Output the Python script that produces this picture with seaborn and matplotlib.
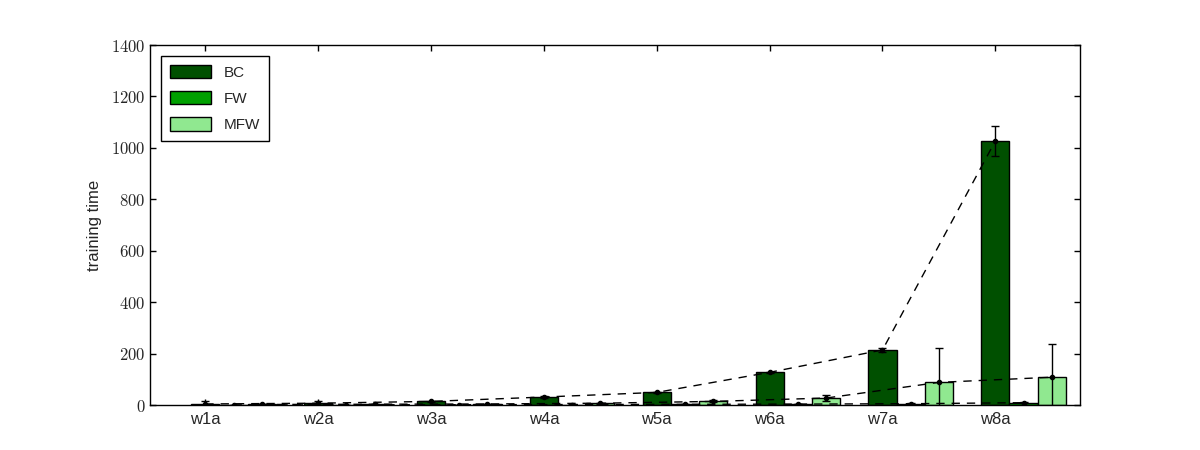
import numpy as np
import pandas as pd
import matplotlib
matplotlib.use("Agg")
import matplotlib.pyplot as plt
from matplotlib.ticker import FuncFormatter
import seaborn as sns

# ---- data ----
datasets = ["w1a", "w2a", "w3a", "w4a", "w5a", "w6a", "w7a", "w8a"]
methods = ["BC", "FW", "MFW"]
bc_time = [4, 7, 14, 31, 49, 127, 214, 1027]
bc_err = [12, 10, 3, 3, 3, 3, 9, 57]
fw_time = [0.5, 0.8, 1.2, 1.8, 2.5, 3.5, 5, 9]
fw_err = [0.3, 0.4, 0.5, 0.6, 0.8, 1.0, 2, 3]
mfw_time = [2, 3, 4, 7, 14, 27, 88, 108]
mfw_err = [1, 1, 1, 2, 4, 12, 132, 128]
colors = ["#005000", "#00a000", "#90e890"]

df = pd.DataFrame({
    "dataset": datasets * 3,
    "method": [m for m in methods for _ in datasets],
    "time": bc_time + fw_time + mfw_time,
})

sns.set_style("ticks")
plt.rcParams["font.family"] = ["Liberation Sans", "DejaVu Sans"]
plt.rcParams["mathtext.fontset"] = "cm"
plt.rcParams["xtick.direction"] = "in"
plt.rcParams["ytick.direction"] = "in"
plt.rcParams["xtick.top"] = True
plt.rcParams["ytick.right"] = True

fig = plt.figure(figsize=(12, 4.5), dpi=100)
ax = fig.add_axes([0.125, 0.1, 0.775, 0.8])

sns.barplot(data=df, x="dataset", y="time", hue="method", order=datasets,
            hue_order=methods, palette=colors, saturation=1, width=0.75,
            errorbar=None, edgecolor="black", linewidth=1, ax=ax)

bw = 0.25
pos = np.arange(len(datasets))
for k, (vals, errs) in enumerate([(bc_time, bc_err), (fw_time, fw_err),
                                  (mfw_time, mfw_err)]):
    ax.errorbar(pos + (k - 1) * bw, vals, yerr=errs, fmt=".", color="black",
                linestyle=(0, (6, 5)), linewidth=1, markersize=6,
                capsize=3, elinewidth=1, capthick=1, zorder=5)

ax.set_xticks(pos - bw)
ax.set_xticklabels(datasets, fontsize=12, family=["Liberation Sans", "DejaVu Sans"])
ax.set_xlim(-0.74, 7.5)
ax.set_ylim(0, 1400)
ax.set_yticks(np.arange(0, 1401, 200))
ax.yaxis.set_major_formatter(FuncFormatter(lambda v, p: f"${int(v)}$"))
ax.tick_params(axis="y", labelsize=12, length=4, width=1, color="black")
ax.tick_params(axis="x", length=4, width=1, color="black", pad=5)
ax.set_xlabel("")
ax.set_ylabel("training time", fontsize=12, labelpad=6)
for s in ax.spines.values():
    s.set_visible(True)
    s.set_linewidth(1)
    s.set_color("black")

leg = ax.legend(loc="upper left", fontsize=11, handlelength=2.7,
                handleheight=0.95, labelspacing=0.75, fancybox=False,
                edgecolor="black", framealpha=1, borderpad=0.6,
                handletextpad=0.8, borderaxespad=0.7)
leg.get_frame().set_linewidth(1)

fig.savefig("out.png", dpi=100, facecolor="white")
